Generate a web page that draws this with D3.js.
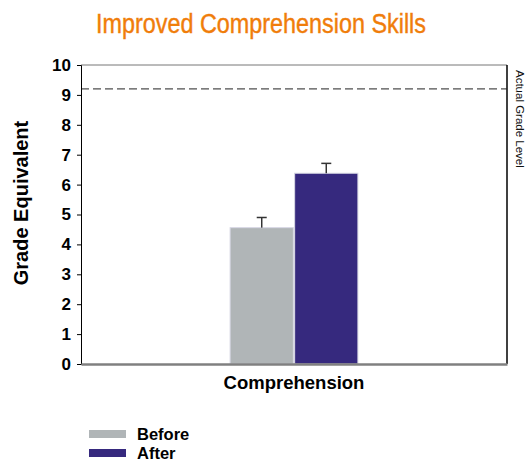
<!DOCTYPE html>
<html>
<head>
  <script src="https://d3js.org/d3.v7.min.js"></script>
  <style>
    body { margin: 0; background: #fff; }
  </style>
</head>
<body>
  <svg id="chart" width="527" height="462"></svg>

  <script>
  // data
  var categories = ["Comprehension"];
  var seriesNames = ["Before", "After"];
  var seriesColors = ["#b0b5b7", "#36297e"];
  var values = [4.56, 6.38];
  var errors = [0.34, 0.33];
  var gradeLevel = 9.2;
  var yTicks = [0, 1, 2, 3, 4, 5, 6, 7, 8, 9, 10];

  var svg = d3.select("#chart"),
      margin = {top: 65, right: 20, bottom: 98, left: 81},
      width = 527 - margin.left - margin.right,
      height = 462 - margin.top - margin.bottom,
      g = svg.append("g").attr("transform", "translate(" + margin.left + "," + margin.top + ")");

  var y = d3.scaleLinear().domain([0, 10]).range([height, 0]);

  var x0 = d3.scaleBand()
    .domain(categories)
    .range([0, width]);

  var x1 = d3.scaleBand()
    .domain(seriesNames)
    .range([x0.bandwidth() * 0.35, x0.bandwidth() * 0.65])
    .paddingInner(0.02);

  // title
  svg.append("text")
    .attr("x", 261)
    .attr("y", 33)
    .attr("text-anchor", "middle")
    .style("font-family", "'Liberation Sans Narrow', 'Arial Narrow', 'Liberation Sans', sans-serif")
    .style("font-size", "27px")
    .style("fill", "#f07d0a")
    .style("stroke", "#f07d0a")
    .style("stroke-width", 0.4)
    .attr("textLength", 330)
    .attr("lengthAdjust", "spacingAndGlyphs")
    .text("Improved Comprehension Skills");

  // frame: top and right
  g.append("line")
    .attr("x1", 0).attr("x2", width)
    .attr("y1", 0).attr("y2", 0)
    .attr("stroke", "#777").attr("stroke-width", 1);

  g.append("line")
    .attr("x1", width).attr("x2", width)
    .attr("y1", 0).attr("y2", height)
    .attr("stroke", "#000").attr("stroke-width", 1.5);

  // reference line
  g.append("line")
    .attr("x1", 0).attr("x2", width)
    .attr("y1", y(gradeLevel)).attr("y2", y(gradeLevel))
    .attr("stroke", "#222")
    .attr("stroke-width", 1)
    .attr("stroke-dasharray", "8,4");

  svg.append("text")
    .attr("transform", "translate(516," + (margin.top + 5) + ") rotate(90)")
    .style("font-family", "'Liberation Sans', Arial, sans-serif")
    .style("font-size", "11.5px")
    .style("fill", "#111")
    .text("Actual Grade Level");

  // bars
  var groups = g.selectAll(".cat")
    .data(categories)
    .enter().append("g")
    .attr("transform", function(d) { return "translate(" + x0(d) + ",0)"; });

  groups.selectAll("rect")
    .data(seriesNames.map(function(s, i) { return {name: s, value: values[i], err: errors[i], color: seriesColors[i]}; }))
    .enter().append("rect")
    .attr("x", function(d) { return x1(d.name); })
    .attr("y", function(d) { return y(d.value); })
    .attr("width", x1.bandwidth())
    .attr("height", function(d) { return height - y(d.value); })
    .attr("fill", function(d) { return d.color; })
    .attr("stroke", "#d8d8e4")
    .attr("stroke-width", 1);

  // error bars (upper only)
  var eb = groups.selectAll(".err")
    .data(seriesNames.map(function(s, i) { return {name: s, value: values[i], err: errors[i]}; }))
    .enter().append("g");

  eb.append("line")
    .attr("x1", function(d) { return x1(d.name) + x1.bandwidth() / 2; })
    .attr("x2", function(d) { return x1(d.name) + x1.bandwidth() / 2; })
    .attr("y1", function(d) { return y(d.value); })
    .attr("y2", function(d) { return y(d.value + d.err); })
    .attr("stroke", "#333").attr("stroke-width", 1.5);

  eb.append("line")
    .attr("x1", function(d) { return x1(d.name) + x1.bandwidth() / 2 - 5; })
    .attr("x2", function(d) { return x1(d.name) + x1.bandwidth() / 2 + 5; })
    .attr("y1", function(d) { return y(d.value + d.err); })
    .attr("y2", function(d) { return y(d.value + d.err); })
    .attr("stroke", "#333").attr("stroke-width", 1.5);

  // y axis
  var yAxis = g.append("g")
    .call(d3.axisLeft(y).tickValues(yTicks).tickSize(4).tickPadding(6));
  yAxis.select(".domain").attr("stroke", "#000");
  yAxis.selectAll("text")
    .style("font-family", "'Liberation Sans', Arial, sans-serif")
    .style("font-size", "17px")
    .style("font-weight", "bold")
    .attr("fill", "#000");

  // x axis
  var xAxis = g.append("g")
    .attr("transform", "translate(0," + height + ")")
    .call(d3.axisBottom(x0).tickSize(0).tickPadding(12));
  xAxis.select(".domain").attr("stroke", "#808080").attr("stroke-width", 2.5);
  xAxis.selectAll("text")
    .style("font-family", "'Liberation Sans', Arial, sans-serif")
    .style("font-size", "18.5px")
    .style("font-weight", "bold")
    .attr("fill", "#000");

  // y label
  svg.append("text")
    .attr("transform", "translate(28,203) rotate(-90)")
    .attr("text-anchor", "middle")
    .style("font-family", "'Liberation Sans', Arial, sans-serif")
    .style("font-size", "20px")
    .style("font-weight", "bold")
    .text("Grade Equivalent");

  // legend
  var legend = svg.selectAll(".legend")
    .data(seriesNames)
    .enter().append("g")
    .attr("transform", function(d, i) { return "translate(89," + (430 + i * 19) + ")"; });

  legend.append("rect")
    .attr("width", 37).attr("height", 8)
    .attr("fill", function(d, i) { return seriesColors[i]; });

  legend.append("text")
    .attr("x", 48).attr("y", 10)
    .style("font-family", "'Liberation Sans', Arial, sans-serif")
    .style("font-size", "16.5px")
    .style("font-weight", "bold")
    .text(function(d) { return d; });
  </script>
</body>
</html>
